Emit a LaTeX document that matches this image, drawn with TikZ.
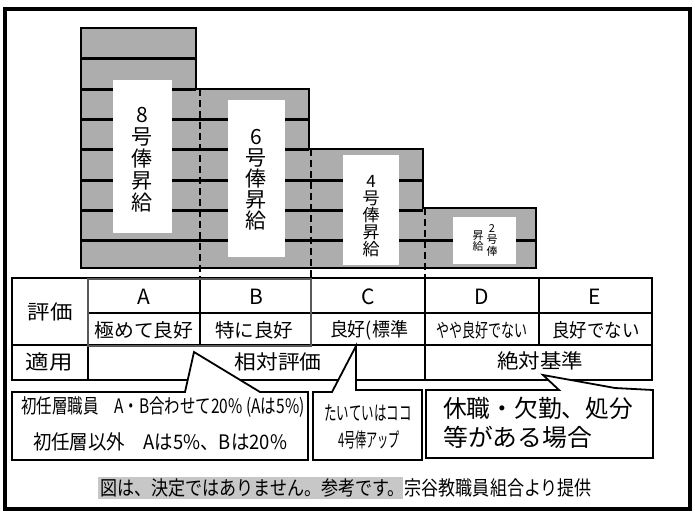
\documentclass[tikz,border=0pt]{standalone}
\usepackage{fontspec}
\usepackage{graphicx}
\setmainfont{Noto Sans CJK JP}
\newcommand\fw[3]{\resizebox{#2pt}{\height}{\fontsize{#1}{#1}\selectfont #3}}
\begin{document}
\begin{tikzpicture}[x=1pt,y=-1pt,
  bar/.style={line width=3pt},
  outl/.style={line width=2.2pt, line join=miter},
  gridl/.style={line width=1.5pt},
  dsh/.style={line width=2.2pt, dash pattern=on 7pt off 4pt},
  call/.style={draw, line width=1.8pt, fill=white, line join=miter},
  lbl/.style={inner sep=0pt},
  vtxt/.style={inner sep=0pt, align=center}]
\useasboundingbox (0,0) rectangle (695,517);
\fill[white] (0,0) rectangle (695,517);
% outer frame
\draw[line width=3.5pt] (5,9) rectangle (690,509);

% ---- staircase chart ----
\fill[black!32] (81,268) -- (81,28) -- (196,28) -- (196,89) -- (309,89) -- (309,149)
  -- (423,149) -- (423,208) -- (536,208) -- (536,268) -- cycle;
\foreach \y/\xe in {58/196, 89/196, 119/309, 149/309, 180/423, 210/423, 240/536}
  \draw[bar] (81,\y) -- (\xe,\y);
\fill[white] (113,80) rectangle (172,233);
\fill[white] (228,100) rectangle (285,257);
\fill[white] (343,155) rectangle (399,265);
\fill[white] (453,217) rectangle (516,264);
\coordinate (d1t) at (200,89);  \coordinate (d1b) at (200,278);
\coordinate (d2t) at (311,149); \coordinate (d2b) at (311,278);
\coordinate (d3t) at (425,208); \coordinate (d3b) at (425,278);
\draw[dsh] (d1t) -- (d1b);
\draw[dsh] (d2t) -- (d2b);
\draw[dsh] (d3t) -- (d3b);
\draw[outl] (81,268) -- (81,28) -- (196,28) -- (196,89) -- (309,89) -- (309,149)
  -- (423,149) -- (423,208) -- (536,208) -- (536,268) -- cycle;

\node[vtxt, font=\fontsize{21}{22}\selectfont] (g8) at (142,160) {8\\号\\俸\\昇\\給};
\node[vtxt, font=\fontsize{21}{21}\selectfont] (g6) at (256,180) {6\\号\\俸\\昇\\給};
\node[vtxt, font=\fontsize{17}{17}\selectfont] (g4) at (371,216) {4\\号\\俸\\昇\\給};
\node[vtxt, font=\fontsize{11}{11.5}\selectfont] (g2a) at (492,240) {2\\号\\俸};
\node[vtxt, font=\fontsize{11}{11.5}\selectfont] (g2b) at (478,241) {昇\\給};

% ---- table ----
\draw[gridl] (12,278) rectangle (652,380);
\draw[gridl] (88,278) -- (88,380);
\draw[gridl] (88,313) -- (652,313);
\draw[gridl] (12,345) -- (652,345);
\foreach \x in {200,311,425,539} \draw[gridl] (\x,278) -- (\x,345);
\draw[gridl] (425,345) -- (425,380);
\draw[line width=2.6pt, black!65] (88,279) rectangle (311,346);

\node[lbl] (hyoka) at (50,312) {\fw{20}{45}{評価}};
\node[lbl] (tekiyo) at (49,362) {\fw{20}{47}{適用}};
\node[lbl, font=\fontsize{21}{21}\selectfont] (lA) at (144,297) {A};
\node[lbl, font=\fontsize{21}{21}\selectfont] (lB) at (256,297) {B};
\node[lbl, font=\fontsize{21}{21}\selectfont] (lC) at (368,297) {C};
\node[lbl, font=\fontsize{21}{21}\selectfont] (lD) at (482,297) {D};
\node[lbl, font=\fontsize{21}{21}\selectfont] (lE) at (595,297) {E};
\node[lbl] (dA) at (144,330) {\fw{19}{99}{極めて良好}};
\node[lbl] (dB) at (254,330) {\fw{19}{78}{特に良好}};
\node[lbl] (dC) at (369,330) {\fw{19}{78}{良好(標準}};
\node[lbl] (dD) at (482,330) {\fw{19}{91}{やや良好でない}};
\node[lbl] (dE) at (596,330) {\fw{19}{87}{良好でない}};
\node[lbl] (rel) at (278,362) {\fw{20}{87}{相対評価}};
\node[lbl] (abs) at (540,361) {\fw{20}{86}{絶対基準}};

% ---- callouts ----
\draw[call] (12,392) -- (185,392) -- (194,352) -- (260,392) -- (308,392) -- (308,460)
  -- (12,460) -- cycle;
\draw[call] (313,392) -- (332,392) -- (356,346) -- (356,390) -- (422,390) -- (422,460)
  -- (313,460) -- cycle;
\draw[call] (426,390) -- (559,390) -- (543,375) -- (615,388) -- (653,390) -- (653,458)
  -- (426,458) -- cycle;

\node[lbl] (c1a) at (163,407) {\fw{20}{283}{初任層職員\quad A・B合わせて20\% (Aは5\%)}};
\node[lbl] (c1b) at (160,442) {\fw{20}{254}{初任層以外\quad Aは5\%、Bは20\%}};
\node[lbl] (c2a) at (368,413) {\fw{20}{87}{たいていはココ}};
\node[lbl] (c2b) at (369,440) {\fw{20}{62}{4号俸アップ}};
\node[lbl, anchor=west] (c3a) at (443,408) {\fw{24}{190}{休職・欠勤、処分}};
\node[lbl, anchor=west] (c3b) at (443,437) {\fw{24}{149}{等がある場合}};

% ---- footer ----
\fill[black!22] (98,477) rectangle (403,499);
\node[lbl] (foot) at (346,488) {\fw{20}{492}{図は、決定ではありません。参考です。宗谷教職員組合より提供}};
\end{tikzpicture}
\end{document}
